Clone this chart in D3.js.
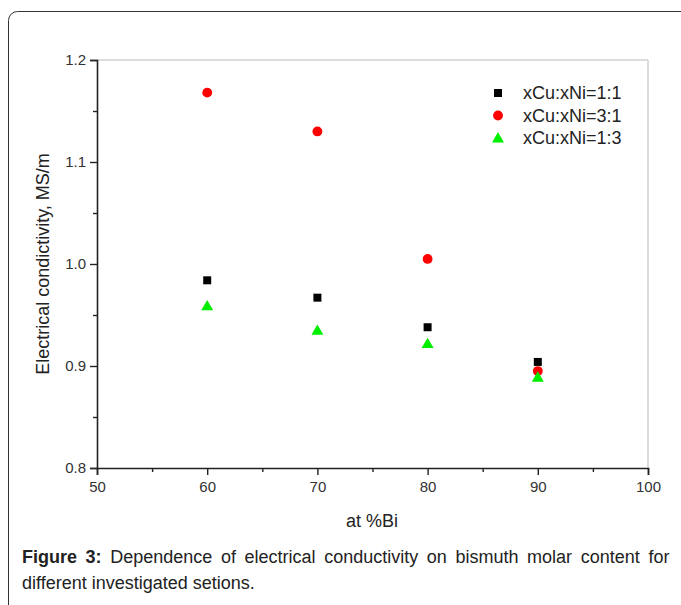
<!DOCTYPE html>
<html><head><meta charset="utf-8">
<script src="https://cdn.jsdelivr.net/npm/d3@7"></script>
<style>body{margin:0;background:#fff}svg{display:block}text{font-family:"Liberation Sans",Arial,sans-serif}</style>
</head><body>
<svg id="c" width="681" height="605"></svg>
<script>
const xValues = [60, 70, 80, 90];
const series11 = [0.984, 0.967, 0.938, 0.904];
const series31 = [1.168, 1.130, 1.005, 0.895];
const series13 = [0.959, 0.935, 0.922, 0.889];
const seriesNames = ["xCu:xNi=1:1", "xCu:xNi=3:1", "xCu:xNi=1:3"];
const xTicks = [50, 60, 70, 80, 90, 100];
const yTicks = [0.8, 0.9, 1.0, 1.1, 1.2];

const svg = d3.select("#c");
svg.append("rect").attr("x",8.5).attr("y",11.5).attr("width",700).attr("height",620)
  .attr("rx",9).attr("fill","none").attr("stroke","#333").attr("stroke-width",1);

const L=97, R=648, T=60, B=468;
const x = d3.scaleLinear().domain([50,100]).range([L,R]);
const y = d3.scaleLinear().domain([0.8,1.2]).range([B,T]);

// frame top/right
svg.append("line").attr("x1",L).attr("x2",R).attr("y1",T).attr("y2",T).attr("stroke","#d0d0d0").attr("stroke-width",1.5);
svg.append("line").attr("x1",R).attr("x2",R).attr("y1",T).attr("y2",B).attr("stroke","#d0d0d0").attr("stroke-width",1.5);

const xAxis = svg.append("g").attr("transform",`translate(0,${B})`)
  .call(d3.axisBottom(x).tickValues(xTicks).tickFormat(d3.format("d")).tickSize(7).tickPadding(6));
const xMinor = svg.append("g").attr("transform",`translate(0,${B})`)
  .call(d3.axisBottom(x).tickValues([55,65,75,85,95]).tickFormat("").tickSize(4));
const yAxis = svg.append("g").attr("transform",`translate(${L},0)`)
  .call(d3.axisLeft(y).tickValues(yTicks).tickFormat(d3.format(".1f")).tickSize(7).tickPadding(4));
const yMinor = svg.append("g").attr("transform",`translate(${L},0)`)
  .call(d3.axisLeft(y).tickValues([0.85,0.95,1.05,1.15]).tickFormat("").tickSize(4));
[xAxis,xMinor,yAxis,yMinor].forEach(g=>{
  g.select(".domain").attr("stroke","#222").attr("stroke-width",1.6);
  g.selectAll(".tick line").attr("stroke","#222").attr("stroke-width",1.4);
  g.selectAll(".tick text").attr("fill","#333").style("font-size","15px").style("font-family","Liberation Sans, Arial, sans-serif");
});
xMinor.select(".domain").remove(); yMinor.select(".domain").remove();

// markers
const sq = d3.symbol().type(d3.symbolSquare).size(64);
const ci = d3.symbol().type(d3.symbolCircle).size(76);
const tr = d3.symbol().type(d3.symbolTriangle).size(62);
svg.append("g").selectAll("path").data(xValues).join("path")
  .attr("d",sq).attr("transform",(d,i)=>`translate(${x(d)},${y(series11[i])})`).attr("fill","#000");
svg.append("g").selectAll("path").data(xValues).join("path")
  .attr("d",ci).attr("transform",(d,i)=>`translate(${x(d)},${y(series31[i])})`).attr("fill","#ff0000");
svg.append("g").selectAll("path").data(xValues).join("path")
  .attr("d",tr).attr("transform",(d,i)=>`translate(${x(d)},${y(series13[i])+1})`).attr("fill","#00ee00");

// legend
const lg = svg.append("g");
const syms=[sq,ci,tr], cols=["#000","#ff0000","#00ee00"];
seriesNames.forEach((n,i)=>{
  const yy = 93 + i*22.5;
  lg.append("path").attr("d",syms[i]).attr("transform",`translate(498,${yy + (i==2?1:0)})`).attr("fill",cols[i]);
  lg.append("text").attr("x",523).attr("y",yy).attr("dy","0.35em").text(n)
    .style("font-size","18px").attr("fill","#222");
});

// axis titles
svg.append("text").attr("x",372).attr("y",527).attr("text-anchor","middle")
  .style("font-size","18px").attr("fill","#222").text("at %Bi");
svg.append("text").attr("transform",`translate(49,${(T+B)/2}) rotate(-90)`).attr("text-anchor","middle")
  .style("font-size","18px").attr("fill","#222").text("Electrical condictivity, MS/m");

// caption
const cap1 = svg.append("text").attr("x",22).attr("y",563).style("font-size","18px").attr("fill","#222");
cap1.append("tspan").style("font-weight","bold").text("Figure 3:");
cap1.append("tspan").text(" Dependence of electrical conductivity on bismuth molar content for");
const w = cap1.node().getComputedTextLength();
const spaces = 11;
cap1.attr("word-spacing", Math.max(0,(673-22-w)/spaces));
svg.append("text").attr("x",22).attr("y",589).style("font-size","18px").attr("fill","#222")
  .text("different investigated setions.");
</script>
</body></html>
